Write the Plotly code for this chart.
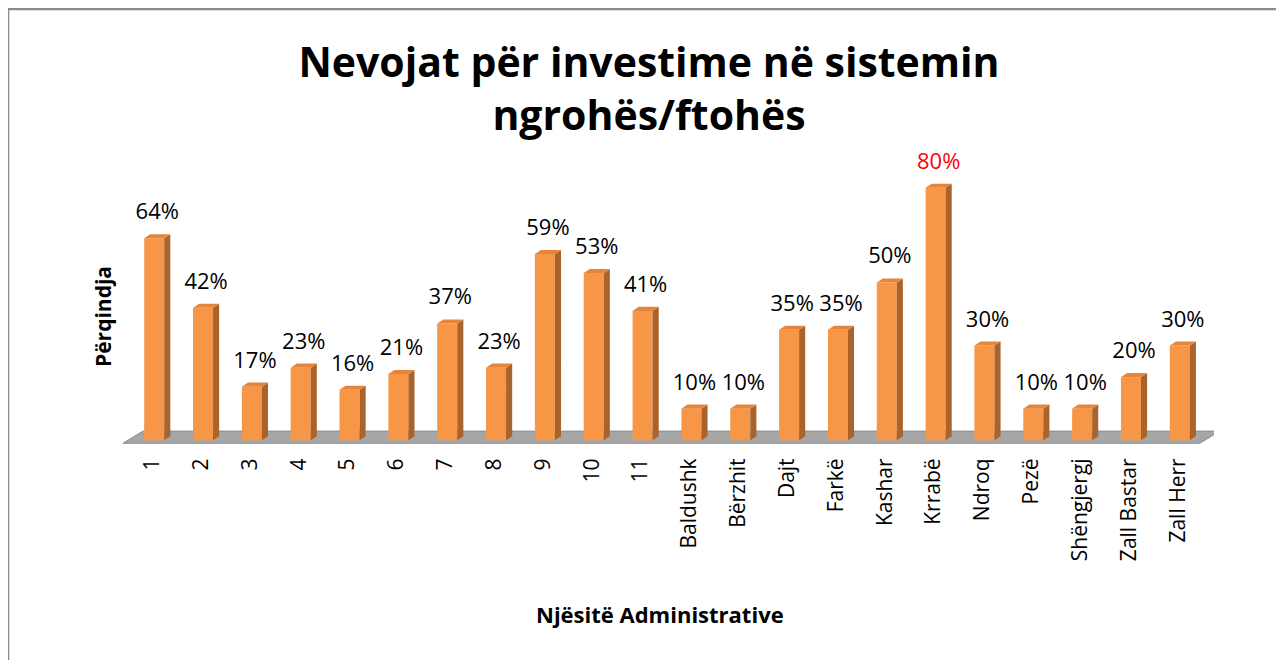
import numpy as np
import plotly.graph_objects as go

categories = ["1", "2", "3", "4", "5", "6", "7", "8", "9", "10", "11",
              "Baldushk", "Bërzhit", "Dajt", "Farkë", "Kashar", "Krrabë",
              "Ndroq", "Pezë", "Shëngjergj", "Zall Bastar", "Zall Herr"]
values = [64, 42, 17, 23, 16, 21, 37, 23, 59, 53, 41,
          10, 10, 35, 35, 50, 80, 30, 10, 10, 20, 30]
label_colors = ["#000000"] * len(values)
label_colors[values.index(max(values))] = "#FF0000"

FRONT = "#F79646"
SIDE = "#A9632D"
TOP = "#E5853C"
FLOOR = "#A6A6A6"

n = len(categories)
x = np.arange(n)
w = 0.41      # bar front-face width (category units)
dx = 0.125    # 3-D depth offset in x
dy = 1.3      # 3-D depth offset in y
lab_off = 7.8

# layout geometry (figure pixels)
L, T, PW, PH = 112, 142, 1094, 295

fig = go.Figure()

fig.add_trace(go.Bar(x=x, y=values, width=w, marker=dict(color=FRONT, line=dict(width=0)),
                     hoverinfo="skip", showlegend=False))

sx, sy, tx, ty = [], [], [], []
for xi, v in zip(x, values):
    r = xi + w / 2
    l = xi - w / 2
    sx += [r, r + dx, r + dx, r, r, None]
    sy += [0, dy, v + dy, v, 0, None]
    tx += [l, r, r + dx, l + dx, l, None]
    ty += [v, v, v + dy, v + dy, v, None]
fig.add_trace(go.Scatter(x=sx, y=sy, mode="lines", fill="toself", fillcolor=SIDE,
                         line=dict(width=0, color=SIDE), hoverinfo="skip", showlegend=False))
fig.add_trace(go.Scatter(x=tx, y=ty, mode="lines", fill="toself", fillcolor=TOP,
                         line=dict(width=0, color=TOP), hoverinfo="skip", showlegend=False))

fig.add_trace(go.Scatter(x=x + dx / 2, y=[v + lab_off for v in values], mode="text",
                         text=[f"{v}%" for v in values],
                         textfont=dict(family="Open Sans", size=22, color=label_colors),
                         hoverinfo="skip", showlegend=False))

# floor (gray parallelogram)
fl, fr = -0.64, n - 1 + 0.41
back = 0.41
fig.add_shape(type="path", xref="x", yref="y", layer="below",
              path=f"M {fl},-0.95 L {fr},-0.95 L {fr + back},2.9 L {fl + back},2.9 Z",
              fillcolor=FLOOR, line=dict(color="#8C8C8C", width=1))

# outer frame
fig.add_shape(type="rect", xref="paper", yref="paper",
              x0=(0 - L) / PW, x1=1.2, y0=-1.0, y1=1 + (T - 1) / PH,
              line=dict(color="#8A8A8A", width=2.5), fillcolor="rgba(0,0,0,0)", layer="below")

fig.update_layout(
    width=1284, height=660,
    margin=dict(l=L, r=1284 - L - PW, t=T, b=660 - T - PH),
    paper_bgcolor="white", plot_bgcolor="white",
    title=dict(text="Nevojat për investime në sistemin<br>ngrohës/ftohës",
               font=dict(family="Open Sans", size=41, color="#000000", weight="bold"),
               x=641 / 1284, xref="container", xanchor="center",
               y=1 - 69 / 660, yref="container", yanchor="middle"),
    xaxis=dict(range=[-0.7, n - 1 + 0.7], tickmode="array", tickvals=x - 0.04,
               ticktext=categories, tickangle=-90, ticks="outside", ticklen=4,
               tickcolor="rgba(0,0,0,0)", showgrid=False, zeroline=False, showline=False,
               tickfont=dict(family="Open Sans", size=21, color="#000000")),
    yaxis=dict(range=[-1.5, 92], showticklabels=False, showgrid=False, zeroline=False,
               showline=False, ticks=""),
    annotations=[
        dict(text="Përqindja", xref="paper", yref="paper", x=(95 - L) / PW,
             y=(T + PH - 309) / PH, textangle=-90, showarrow=False,
             xanchor="center", yanchor="middle",
             font=dict(family="Open Sans", size=21, color="#000000", weight="bold")),
        dict(text="Njësitë Administrative", xref="paper", yref="paper",
             x=(652 - L) / PW, y=-(606 - T - PH) / PH, showarrow=False,
             xanchor="center", yanchor="middle",
             font=dict(family="Open Sans", size=22, color="#000000", weight="bold")),
    ],
)

fig.write_html("out.html")
